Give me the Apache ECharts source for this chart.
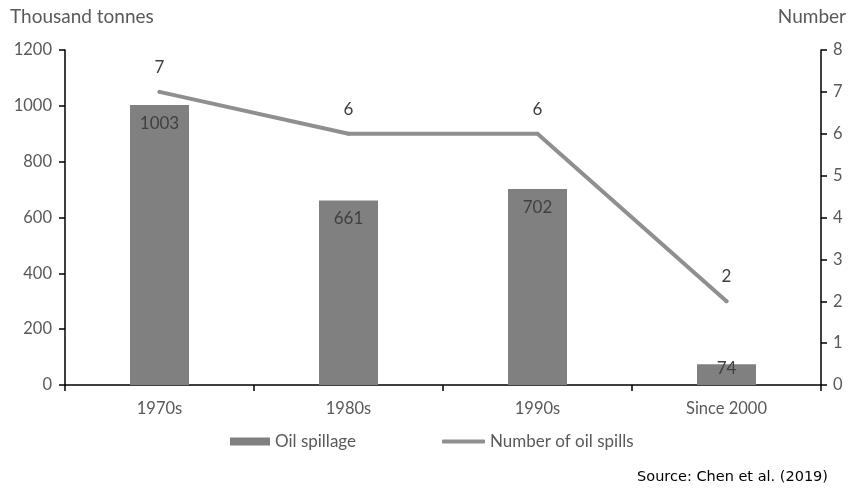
<!DOCTYPE html>
<html>
<head>
<meta charset="utf-8">
<style>
  html, body { margin: 0; padding: 0; background: #ffffff; }
  #chart { width: 858px; height: 489px; }
</style>
<script src="https://cdn.jsdelivr.net/npm/echarts@6/dist/echarts.min.js"></script>
</head>
<body>
<div id="chart"></div>
<script>
// Oil spills by decade
const categories = ['1970s', '1980s', '1990s', 'Since 2000'];
const spillage = [1003, 661, 702, 74];        // thousand tonnes
const spillCount = [7, 6, 6, 2];              // number of spills
const leftTicks = { min: 0, max: 1200, interval: 200 };
const rightTicks = { min: 0, max: 8, interval: 1 };

const FONT = 'Lato';
const TEXT = '#595959';
const BAR = '#808080';
const LINE = '#8f8f8f';

const chart = echarts.init(document.getElementById('chart'), null, { renderer: 'canvas' });

chart.setOption({
  animation: false,
  backgroundColor: '#ffffff',
  textStyle: { fontFamily: FONT },
  title: [
    { text: 'Thousand tonnes', left: 10, top: 7, padding: 0,
      textStyle: { fontFamily: FONT, fontSize: 19, fontWeight: 'normal', color: TEXT } },
    { text: 'Number', right: 12, top: 7, padding: 0,
      textStyle: { fontFamily: FONT, fontSize: 19, fontWeight: 'normal', color: TEXT } },
    { text: 'Source: Chen et al. (2019)', right: 30, top: 470, padding: 0,
      textStyle: { fontFamily: 'DejaVu Sans', fontSize: 14.5, fontWeight: 'normal', color: '#000000' } }
  ],
  grid: { left: 65, right: 37, top: 50, bottom: 104, containLabel: false },
  legend: [
    { data: [{ name: 'Oil spillage', icon: 'rect' }],
      left: 230, top: 433, itemWidth: 40, itemHeight: 8, itemGap: 5, padding: 0,
      textStyle: { fontFamily: FONT, fontSize: 17, color: TEXT } },
    { data: [{ name: 'Number of oil spills', icon: 'roundRect' }],
      left: 442, top: 433, itemWidth: 43, itemHeight: 4, itemGap: 5, padding: 0,
      textStyle: { fontFamily: FONT, fontSize: 17, color: TEXT } }
  ],
  xAxis: {
    type: 'category',
    data: categories,
    axisLine: { lineStyle: { color: '#000000', width: 1.5 } },
    axisTick: { show: true, alignWithLabel: false, length: 6, lineStyle: { color: '#000000', width: 1.5 } },
    axisLabel: { color: TEXT, fontFamily: FONT, fontSize: 16.5, margin: 15 },
    splitLine: { show: false }
  },
  yAxis: [
    {
      type: 'value', position: 'left',
      min: leftTicks.min, max: leftTicks.max, interval: leftTicks.interval,
      axisLine: { show: true, lineStyle: { color: '#000000', width: 1.5 } },
      axisTick: { show: true, length: 6, lineStyle: { color: '#000000', width: 1.5 } },
      axisLabel: { color: TEXT, fontFamily: FONT, fontSize: 16.5, margin: 13,
                   formatter: v => String(v) },
      splitLine: { show: false }
    },
    {
      type: 'value', position: 'right',
      min: rightTicks.min, max: rightTicks.max, interval: rightTicks.interval,
      axisLine: { show: true, lineStyle: { color: '#000000', width: 1.5 } },
      axisTick: { show: true, length: 6, lineStyle: { color: '#000000', width: 1.5 } },
      axisLabel: { color: TEXT, fontFamily: FONT, fontSize: 16.5, margin: 12 },
      splitLine: { show: false }
    }
  ],
  series: [
    {
      name: 'Oil spillage',
      type: 'bar',
      yAxisIndex: 0,
      barWidth: 59,
      itemStyle: { color: BAR },
      label: {
        show: true, position: 'insideTop', distance: 10,
        color: '#404040', fontFamily: FONT, fontSize: 17
      },
      data: spillage.map(v => v < 150
        ? { value: v, label: { position: 'inside', offset: [0, -6] } }
        : v)
    },
    {
      name: 'Number of oil spills',
      type: 'line',
      yAxisIndex: 1,
      symbol: 'circle',
      symbolSize: 4,
      showSymbol: true,
      lineStyle: { color: LINE, width: 4, cap: 'round', join: 'round' },
      itemStyle: { color: LINE },
      label: {
        show: true, position: 'top', distance: 14,
        color: '#404040', fontFamily: FONT, fontSize: 17
      },
      data: spillCount
    }
  ]
});
</script>
</body>
</html>
